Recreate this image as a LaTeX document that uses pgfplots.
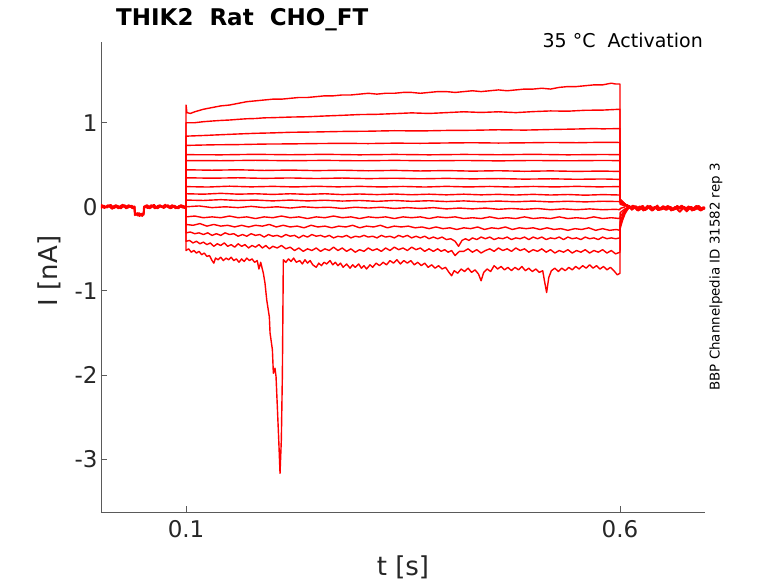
\documentclass[border=0pt]{standalone}
\usepackage{fontspec}
\setmainfont{DejaVu Sans}
\usepackage{pgfplots}
\pgfplotsset{compat=1.18}
\definecolor{axgray}{RGB}{90,90,90}
\definecolor{txtgray}{RGB}{38,38,38}
\pgfplotsset{tr/.style={color=red, line width=1.4pt, line join=round},
  trb/.style={color=red, line width=1.8pt, line join=round}}
\begin{document}
\begin{tikzpicture}
\useasboundingbox (-101pt,-71pt) rectangle (677pt,512pt);
\begin{axis}[
  scale only axis, width=604pt, height=470pt,
  at={(0pt,0pt)}, anchor=south west,
  xmin=0.002, xmax=0.698, ymin=-3.63, ymax=1.96,
  axis lines=left, axis line style={-, draw=axgray, line width=0.8pt},
  tick align=inside, major tick length=6pt,
  tick style={draw=axgray, line width=0.8pt},
  xtick={0.1,0.6}, xticklabels={0.1,0.6},
  ytick={-3,-2,-1,0,1}, yticklabels={-3,-2,-1,0,1},
  tick label style={font=\fontsize{23}{27}\selectfont, text=txtgray},
  xticklabel style={yshift=-5pt},
  no markers, clip=true,
]
% pre-step baselines
\addplot[trb] coordinates {(0.002,0.01)(0.006,-0.015)(0.010,0.02)(0.014,-0.01)(0.018,0.015)(0.022,-0.02)(0.026,0.01)(0.030,-0.005)(0.034,0.02)(0.038,-0.015)(0.0405,0.005)(0.041,-0.07)(0.0435,-0.09)(0.046,-0.075)(0.0485,-0.1)(0.051,-0.08)(0.0515,0.0)(0.054,0.015)(0.058,-0.02)(0.062,0.01)(0.066,-0.01)(0.070,0.02)(0.074,-0.015)(0.078,0.01)(0.082,-0.02)(0.086,0.015)(0.090,-0.01)(0.094,0.02)(0.098,-0.015)(0.1,0.0)};
\addplot[trb] coordinates {(0.002,-0.02)(0.005,0.015)(0.009,-0.01)(0.013,0.025)(0.017,-0.015)(0.021,0.01)(0.025,-0.02)(0.029,0.02)(0.033,-0.01)(0.037,0.015)(0.0405,-0.01)(0.041,-0.1)(0.044,-0.075)(0.0465,-0.11)(0.049,-0.08)(0.0512,-0.095)(0.0517,-0.01)(0.055,0.02)(0.059,-0.01)(0.063,0.025)(0.067,-0.02)(0.071,0.01)(0.075,-0.01)(0.079,0.02)(0.083,-0.015)(0.087,0.01)(0.091,-0.02)(0.095,0.015)(0.1,0.0)};
\addplot[trb] coordinates {(0.002,0.025)(0.007,-0.005)(0.011,0.01)(0.015,-0.025)(0.019,0.02)(0.023,0.0)(0.027,0.025)(0.031,-0.02)(0.035,0.005)(0.039,-0.02)(0.0408,0.0)(0.0412,-0.08)(0.0445,-0.105)(0.047,-0.085)(0.0495,-0.11)(0.0513,-0.075)(0.052,0.005)(0.056,-0.015)(0.060,0.02)(0.064,-0.02)(0.068,0.015)(0.072,-0.005)(0.076,0.025)(0.080,-0.01)(0.084,0.02)(0.088,-0.02)(0.092,0.01)(0.096,-0.01)(0.1,0.0)};
% post-step tails
\addplot[trb] coordinates {(0.610,0.0)(0.614,-0.03)(0.618,0.01)(0.622,-0.025)(0.626,0.012)(0.630,-0.03)(0.634,0.0)(0.638,-0.04)(0.642,0.005)(0.646,-0.025)(0.650,0.01)(0.654,-0.035)(0.658,0.0)(0.662,-0.03)(0.666,0.012)(0.670,-0.025)(0.674,0.0)(0.678,-0.035)(0.682,0.0)(0.686,-0.03)(0.690,0.008)(0.694,-0.025)(0.698,-0.01)};
\addplot[trb] coordinates {(0.612,-0.03)(0.616,0.008)(0.620,-0.04)(0.624,0.0)(0.628,-0.025)(0.632,0.012)(0.636,-0.035)(0.640,0.0)(0.644,-0.04)(0.648,-0.005)(0.652,-0.03)(0.656,0.008)(0.660,-0.035)(0.664,0.0)(0.668,-0.025)(0.672,0.008)(0.676,-0.04)(0.680,0.0)(0.684,-0.025)(0.688,0.012)(0.692,-0.03)(0.696,-0.005)(0.698,-0.02)};
\addplot[trb] coordinates {(0.611,-0.015)(0.615,0.015)(0.619,-0.02)(0.623,0.005)(0.627,-0.045)(0.631,-0.01)(0.635,0.01)(0.639,-0.025)(0.643,0.015)(0.647,-0.035)(0.651,-0.015)(0.655,0.01)(0.659,-0.045)(0.663,-0.005)(0.667,-0.02)(0.671,0.015)(0.675,-0.03)(0.679,0.005)(0.683,-0.045)(0.687,-0.01)(0.691,0.01)(0.695,-0.035)(0.698,-0.005)};
\addplot[trb] coordinates {(0.613,-0.04)(0.617,-0.01)(0.621,-0.045)(0.625,-0.02)(0.629,-0.04)(0.633,-0.01)(0.637,-0.045)(0.641,-0.015)(0.645,-0.04)(0.649,-0.01)(0.653,-0.035)(0.657,-0.015)(0.661,-0.04)(0.665,-0.02)(0.669,-0.06)(0.673,-0.015)(0.677,-0.055)(0.681,-0.01)(0.685,-0.04)(0.689,-0.02)(0.693,-0.045)(0.697,-0.015)(0.698,-0.03)};
% T1
\addplot[tr] coordinates {(0.1,0)(0.1,1.21)(0.101,1.12)(0.105,1.11)(0.11,1.13)(0.12,1.16)(0.13,1.18)(0.14,1.20)(0.15,1.21)(0.16,1.23)(0.17,1.25)(0.18,1.26)(0.19,1.27)(0.20,1.28)(0.21,1.28)(0.22,1.29)(0.23,1.30)(0.24,1.30)(0.25,1.31)(0.26,1.32)(0.27,1.32)(0.28,1.33)(0.29,1.33)(0.30,1.34)(0.31,1.35)(0.32,1.34)(0.33,1.35)(0.34,1.35)(0.35,1.36)(0.36,1.36)(0.37,1.35)(0.38,1.36)(0.39,1.37)(0.40,1.37)(0.41,1.36)(0.42,1.37)(0.43,1.38)(0.44,1.37)(0.45,1.38)(0.46,1.39)(0.47,1.38)(0.48,1.39)(0.49,1.40)(0.50,1.40)(0.51,1.41)(0.52,1.40)(0.53,1.42)(0.54,1.43)(0.55,1.43)(0.56,1.44)(0.57,1.45)(0.58,1.45)(0.59,1.47)(0.595,1.46)(0.60,1.46)(0.6002,0.09)(0.606,0.03)(0.612,0)};
% T2
\addplot[tr] coordinates {(0.1,0)(0.1,1.0)(0.11,1.0)(0.12,1.012)(0.13,1.02)(0.14,1.027)(0.15,1.032)(0.16,1.04)(0.17,1.047)(0.18,1.05)(0.19,1.058)(0.20,1.06)(0.22,1.067)(0.24,1.071)(0.26,1.08)(0.28,1.088)(0.30,1.097)(0.32,1.10)(0.34,1.108)(0.36,1.117)(0.38,1.11)(0.40,1.12)(0.42,1.13)(0.44,1.122)(0.46,1.13)(0.48,1.12)(0.50,1.132)(0.52,1.14)(0.54,1.137)(0.56,1.148)(0.58,1.15)(0.60,1.16)(0.6002,0.09)(0.606,0.03)(0.612,0)};
% T3
\addplot[tr] coordinates {(0.1,0)(0.1,0.84)(0.12,0.848)(0.14,0.857)(0.16,0.866)(0.18,0.874)(0.20,0.879)(0.22,0.886)(0.25,0.89)(0.28,0.896)(0.31,0.899)(0.34,0.905)(0.37,0.902)(0.40,0.908)(0.43,0.91)(0.46,0.916)(0.49,0.912)(0.52,0.919)(0.55,0.925)(0.57,0.93)(0.58,0.927)(0.60,0.93)(0.6002,0.08)(0.606,0.03)(0.612,0)};
% T4
\addplot[tr] coordinates {(0.1,0)(0.1,0.73)(0.13,0.737)(0.16,0.74)(0.19,0.746)(0.22,0.748)(0.25,0.752)(0.28,0.755)(0.31,0.752)(0.34,0.757)(0.37,0.755)(0.40,0.759)(0.43,0.762)(0.46,0.758)(0.49,0.761)(0.52,0.765)(0.55,0.762)(0.58,0.767)(0.60,0.765)(0.6002,0.08)(0.606,0.03)(0.612,0)};
% T5
\addplot[tr] coordinates {(0.1,0)(0.1,0.62)(0.14,0.618)(0.18,0.624)(0.22,0.619)(0.26,0.624)(0.30,0.618)(0.34,0.623)(0.38,0.618)(0.42,0.623)(0.46,0.619)(0.50,0.624)(0.54,0.618)(0.58,0.622)(0.60,0.62)(0.6002,0.08)(0.606,0.03)(0.612,0)};
% T6
\addplot[tr] coordinates {(0.1,0)(0.1,0.55)(0.14,0.548)(0.18,0.553)(0.22,0.548)(0.26,0.552)(0.30,0.547)(0.34,0.552)(0.38,0.547)(0.42,0.551)(0.46,0.546)(0.50,0.551)(0.54,0.547)(0.58,0.551)(0.60,0.549)(0.6002,0.08)(0.606,0.03)(0.612,0)};
% T7
\addplot[tr] coordinates {(0.1,0)(0.1,0.44)(0.13,0.435)(0.16,0.44)(0.19,0.432)(0.22,0.437)(0.25,0.43)(0.28,0.435)(0.31,0.428)(0.34,0.433)(0.37,0.426)(0.40,0.431)(0.43,0.424)(0.46,0.429)(0.49,0.422)(0.52,0.427)(0.55,0.421)(0.58,0.425)(0.60,0.42)(0.6002,0.07)(0.606,0.02)(0.612,0)};
% T8
\addplot[tr] coordinates {(0.1,0)(0.1,0.345)(0.13,0.34)(0.16,0.345)(0.19,0.338)(0.22,0.343)(0.25,0.336)(0.28,0.342)(0.31,0.335)(0.34,0.34)(0.37,0.333)(0.40,0.338)(0.43,0.332)(0.46,0.336)(0.49,0.329)(0.52,0.333)(0.55,0.327)(0.58,0.331)(0.60,0.326)(0.6002,0.07)(0.606,0.02)(0.612,0)};
% T9
\addplot[tr] coordinates {(0.1,0)(0.1,0.24)(0.125,0.235)(0.15,0.245)(0.175,0.237)(0.20,0.243)(0.225,0.236)(0.25,0.244)(0.275,0.237)(0.30,0.243)(0.325,0.236)(0.35,0.242)(0.375,0.235)(0.40,0.243)(0.425,0.236)(0.45,0.242)(0.475,0.235)(0.50,0.242)(0.525,0.236)(0.55,0.243)(0.575,0.237)(0.60,0.24)(0.6002,0.06)(0.606,0.02)(0.612,0)};
% T10
\addplot[tr] coordinates {(0.1,0)(0.1,0.155)(0.12,0.15)(0.14,0.16)(0.16,0.15)(0.18,0.155)(0.20,0.147)(0.22,0.155)(0.24,0.148)(0.26,0.155)(0.28,0.145)(0.30,0.152)(0.32,0.145)(0.34,0.152)(0.36,0.143)(0.38,0.15)(0.40,0.142)(0.42,0.15)(0.44,0.142)(0.46,0.148)(0.48,0.14)(0.50,0.148)(0.52,0.14)(0.54,0.146)(0.56,0.138)(0.58,0.145)(0.60,0.14)(0.6002,0.05)(0.606,0.02)(0.612,0)};
% T11
\addplot[tr] coordinates {(0.1,0)(0.1,0.08)(0.12,0.075)(0.14,0.085)(0.16,0.075)(0.18,0.08)(0.20,0.07)(0.22,0.08)(0.24,0.07)(0.26,0.078)(0.28,0.068)(0.30,0.075)(0.32,0.065)(0.34,0.075)(0.36,0.065)(0.38,0.072)(0.40,0.062)(0.42,0.07)(0.44,0.06)(0.46,0.068)(0.48,0.06)(0.50,0.068)(0.52,0.058)(0.54,0.066)(0.56,0.058)(0.58,0.066)(0.60,0.062)(0.6002,0.03)(0.606,0.01)(0.612,0)};
% T12
\addplot[tr] coordinates {(0.1,0)(0.115,0.01)(0.13,-0.01)(0.145,0.0)(0.16,-0.01)(0.175,0.005)(0.19,-0.01)(0.205,0.0)(0.22,-0.015)(0.235,0.0)(0.25,-0.01)(0.265,-0.005)(0.28,-0.02)(0.295,-0.005)(0.31,-0.015)(0.325,-0.005)(0.34,-0.02)(0.355,-0.01)(0.37,-0.02)(0.385,-0.01)(0.40,-0.025)(0.415,-0.015)(0.43,-0.025)(0.445,-0.015)(0.46,-0.03)(0.475,-0.02)(0.49,-0.03)(0.505,-0.02)(0.52,-0.035)(0.535,-0.025)(0.55,-0.035)(0.565,-0.025)(0.58,-0.035)(0.595,-0.03)(0.60,-0.035)(0.6002,-0.02)(0.606,0.0)};
% T13
\addplot[tr] coordinates {(0.1,0)(0.1,-0.12)(0.11,-0.11)(0.12,-0.13)(0.13,-0.12)(0.14,-0.13)(0.15,-0.11)(0.16,-0.13)(0.17,-0.12)(0.18,-0.14)(0.19,-0.12)(0.20,-0.13)(0.21,-0.11)(0.22,-0.13)(0.23,-0.12)(0.24,-0.14)(0.25,-0.12)(0.26,-0.13)(0.27,-0.11)(0.28,-0.13)(0.29,-0.12)(0.30,-0.14)(0.31,-0.12)(0.32,-0.13)(0.33,-0.12)(0.34,-0.14)(0.35,-0.12)(0.36,-0.13)(0.37,-0.12)(0.38,-0.14)(0.39,-0.12)(0.40,-0.13)(0.41,-0.12)(0.42,-0.14)(0.43,-0.13)(0.44,-0.14)(0.45,-0.12)(0.46,-0.14)(0.47,-0.13)(0.48,-0.14)(0.49,-0.12)(0.50,-0.14)(0.51,-0.13)(0.52,-0.14)(0.53,-0.12)(0.54,-0.14)(0.55,-0.13)(0.56,-0.14)(0.57,-0.12)(0.58,-0.14)(0.59,-0.13)(0.60,-0.14)(0.6002,-0.07)(0.605,-0.03)(0.61,0.0)};
% T14
\addplot[tr] coordinates {(0.1,0)(0.1,-0.21)(0.108,-0.22)(0.116,-0.20)(0.124,-0.23)(0.132,-0.21)(0.140,-0.23)(0.148,-0.22)(0.156,-0.24)(0.164,-0.22)(0.172,-0.24)(0.180,-0.22)(0.188,-0.23)(0.196,-0.21)(0.204,-0.24)(0.212,-0.22)(0.220,-0.24)(0.228,-0.23)(0.236,-0.25)(0.244,-0.22)(0.252,-0.24)(0.260,-0.23)(0.268,-0.25)(0.276,-0.23)(0.284,-0.24)(0.292,-0.22)(0.300,-0.25)(0.308,-0.23)(0.316,-0.24)(0.324,-0.22)(0.332,-0.25)(0.340,-0.23)(0.348,-0.24)(0.356,-0.23)(0.364,-0.25)(0.372,-0.24)(0.380,-0.26)(0.388,-0.24)(0.396,-0.26)(0.404,-0.25)(0.412,-0.27)(0.420,-0.25)(0.428,-0.26)(0.436,-0.24)(0.444,-0.27)(0.452,-0.25)(0.460,-0.26)(0.468,-0.24)(0.476,-0.27)(0.484,-0.25)(0.492,-0.26)(0.500,-0.25)(0.508,-0.27)(0.516,-0.25)(0.524,-0.27)(0.532,-0.26)(0.540,-0.28)(0.548,-0.26)(0.556,-0.27)(0.564,-0.25)(0.572,-0.28)(0.580,-0.26)(0.588,-0.28)(0.596,-0.27)(0.600,-0.28)(0.6002,-0.12)(0.604,-0.06)(0.608,-0.02)(0.612,0.0)};
% T15
\addplot[tr] coordinates {(0.1,0)(0.1,-0.31)(0.105,-0.30)(0.110,-0.32)(0.115,-0.31)(0.120,-0.33)(0.125,-0.31)(0.130,-0.34)(0.135,-0.32)(0.140,-0.34)(0.145,-0.31)(0.150,-0.33)(0.155,-0.32)(0.160,-0.35)(0.165,-0.33)(0.170,-0.35)(0.175,-0.32)(0.180,-0.34)(0.185,-0.33)(0.190,-0.36)(0.195,-0.33)(0.200,-0.35)(0.205,-0.34)(0.210,-0.36)(0.215,-0.33)(0.220,-0.35)(0.225,-0.34)(0.230,-0.37)(0.235,-0.34)(0.240,-0.36)(0.245,-0.33)(0.250,-0.35)(0.255,-0.34)(0.260,-0.36)(0.265,-0.34)(0.270,-0.37)(0.275,-0.35)(0.280,-0.36)(0.285,-0.34)(0.290,-0.37)(0.295,-0.35)(0.300,-0.36)(0.305,-0.34)(0.310,-0.36)(0.315,-0.35)(0.320,-0.37)(0.325,-0.34)(0.330,-0.36)(0.335,-0.35)(0.340,-0.37)(0.345,-0.34)(0.350,-0.36)(0.355,-0.34)(0.360,-0.37)(0.365,-0.35)(0.370,-0.37)(0.375,-0.35)(0.380,-0.38)(0.385,-0.36)(0.390,-0.38)(0.395,-0.36)(0.400,-0.39)(0.405,-0.38)(0.410,-0.41)(0.414,-0.47)(0.418,-0.40)(0.422,-0.38)(0.426,-0.40)(0.430,-0.37)(0.435,-0.39)(0.440,-0.36)(0.445,-0.38)(0.450,-0.36)(0.455,-0.39)(0.460,-0.37)(0.465,-0.38)(0.470,-0.36)(0.475,-0.39)(0.480,-0.37)(0.485,-0.38)(0.490,-0.36)(0.495,-0.39)(0.500,-0.36)(0.505,-0.38)(0.510,-0.36)(0.515,-0.39)(0.520,-0.37)(0.525,-0.38)(0.530,-0.36)(0.535,-0.39)(0.540,-0.36)(0.545,-0.38)(0.550,-0.37)(0.555,-0.39)(0.560,-0.36)(0.565,-0.38)(0.570,-0.37)(0.575,-0.39)(0.580,-0.36)(0.585,-0.38)(0.590,-0.37)(0.595,-0.38)(0.600,-0.37)(0.6002,-0.18)(0.603,-0.10)(0.606,-0.05)(0.609,-0.02)(0.612,0.0)};
% T16
\addplot[tr] coordinates {(0.1,0)(0.1,-0.41)(0.104,-0.40)(0.108,-0.43)(0.112,-0.41)(0.116,-0.44)(0.120,-0.42)(0.124,-0.45)(0.128,-0.43)(0.132,-0.47)(0.136,-0.44)(0.140,-0.46)(0.144,-0.43)(0.148,-0.47)(0.152,-0.45)(0.156,-0.48)(0.160,-0.44)(0.164,-0.47)(0.168,-0.45)(0.172,-0.49)(0.176,-0.46)(0.180,-0.48)(0.184,-0.45)(0.188,-0.49)(0.192,-0.46)(0.196,-0.50)(0.200,-0.47)(0.205,-0.49)(0.210,-0.46)(0.215,-0.50)(0.220,-0.48)(0.225,-0.52)(0.230,-0.49)(0.235,-0.53)(0.240,-0.50)(0.245,-0.52)(0.250,-0.49)(0.255,-0.53)(0.260,-0.50)(0.265,-0.52)(0.270,-0.48)(0.275,-0.52)(0.280,-0.49)(0.285,-0.53)(0.290,-0.50)(0.295,-0.54)(0.300,-0.51)(0.305,-0.53)(0.310,-0.49)(0.315,-0.52)(0.320,-0.50)(0.325,-0.53)(0.330,-0.49)(0.335,-0.52)(0.340,-0.48)(0.345,-0.51)(0.350,-0.49)(0.355,-0.52)(0.360,-0.48)(0.365,-0.51)(0.370,-0.49)(0.375,-0.53)(0.380,-0.50)(0.385,-0.53)(0.390,-0.50)(0.394,-0.53)(0.398,-0.51)(0.402,-0.54)(0.406,-0.52)(0.410,-0.58)(0.415,-0.53)(0.420,-0.53)(0.425,-0.50)(0.430,-0.54)(0.435,-0.51)(0.440,-0.55)(0.445,-0.52)(0.450,-0.50)(0.455,-0.53)(0.460,-0.49)(0.465,-0.52)(0.470,-0.50)(0.475,-0.53)(0.480,-0.49)(0.485,-0.52)(0.490,-0.50)(0.495,-0.54)(0.500,-0.51)(0.505,-0.53)(0.510,-0.50)(0.515,-0.54)(0.520,-0.51)(0.525,-0.55)(0.530,-0.52)(0.535,-0.54)(0.540,-0.51)(0.545,-0.55)(0.550,-0.52)(0.555,-0.54)(0.560,-0.51)(0.565,-0.55)(0.570,-0.52)(0.575,-0.54)(0.580,-0.51)(0.585,-0.55)(0.590,-0.52)(0.595,-0.56)(0.600,-0.54)(0.6002,-0.22)(0.603,-0.13)(0.606,-0.06)(0.609,-0.02)(0.612,0.0)};
% T17
\addplot[tr] coordinates {(0.1,0)(0.1,-0.52)(0.103,-0.50)(0.106,-0.54)(0.109,-0.52)(0.112,-0.55)(0.115,-0.53)(0.118,-0.57)(0.121,-0.55)(0.124,-0.59)(0.127,-0.58)(0.130,-0.64)(0.132,-0.67)(0.134,-0.61)(0.137,-0.63)(0.140,-0.60)(0.143,-0.64)(0.146,-0.61)(0.149,-0.63)(0.152,-0.60)(0.155,-0.64)(0.158,-0.62)(0.161,-0.66)(0.164,-0.62)(0.167,-0.65)(0.170,-0.61)(0.173,-0.64)(0.176,-0.62)(0.179,-0.66)(0.182,-0.64)(0.184,-0.74)(0.186,-0.66)(0.1891,-0.79)(0.1910,-0.91)(0.1930,-1.11)(0.1960,-1.31)(0.1968,-1.50)(0.1995,-1.70)(0.2006,-1.98)(0.2025,-1.92)(0.2037,-2.02)(0.2052,-2.38)(0.2068,-2.77)(0.2083,-3.17)(0.2098,-2.77)(0.2110,-2.00)(0.2121,-0.63)(0.215,-0.66)(0.218,-0.62)(0.221,-0.65)(0.224,-0.61)(0.227,-0.66)(0.231,-0.64)(0.234,-0.68)(0.237,-0.63)(0.240,-0.67)(0.243,-0.64)(0.246,-0.69)(0.250,-0.72)(0.253,-0.67)(0.256,-0.70)(0.259,-0.66)(0.262,-0.68)(0.266,-0.64)(0.269,-0.69)(0.272,-0.66)(0.275,-0.70)(0.278,-0.67)(0.281,-0.72)(0.285,-0.68)(0.289,-0.73)(0.292,-0.69)(0.295,-0.72)(0.299,-0.68)(0.302,-0.73)(0.305,-0.70)(0.308,-0.74)(0.312,-0.69)(0.315,-0.72)(0.319,-0.67)(0.323,-0.70)(0.327,-0.66)(0.331,-0.69)(0.335,-0.64)(0.339,-0.67)(0.343,-0.63)(0.347,-0.68)(0.351,-0.64)(0.355,-0.67)(0.359,-0.64)(0.363,-0.69)(0.367,-0.66)(0.371,-0.70)(0.375,-0.67)(0.379,-0.72)(0.383,-0.69)(0.387,-0.73)(0.391,-0.70)(0.395,-0.74)(0.399,-0.72)(0.403,-0.78)(0.406,-0.82)(0.409,-0.76)(0.413,-0.79)(0.417,-0.74)(0.421,-0.77)(0.425,-0.73)(0.429,-0.78)(0.433,-0.75)(0.437,-0.80)(0.440,-0.88)(0.443,-0.78)(0.447,-0.74)(0.451,-0.77)(0.455,-0.70)(0.459,-0.74)(0.463,-0.71)(0.467,-0.75)(0.471,-0.72)(0.475,-0.76)(0.479,-0.72)(0.483,-0.75)(0.487,-0.71)(0.491,-0.76)(0.495,-0.73)(0.499,-0.77)(0.503,-0.74)(0.507,-0.78)(0.511,-0.76)(0.513,-0.88)(0.5155,-1.02)(0.518,-0.84)(0.521,-0.76)(0.525,-0.73)(0.529,-0.77)(0.533,-0.73)(0.537,-0.76)(0.541,-0.72)(0.545,-0.75)(0.549,-0.71)(0.553,-0.74)(0.557,-0.70)(0.561,-0.73)(0.565,-0.69)(0.569,-0.73)(0.573,-0.70)(0.577,-0.74)(0.581,-0.71)(0.585,-0.75)(0.589,-0.72)(0.593,-0.76)(0.597,-0.81)(0.600,-0.79)(0.6002,-0.26)(0.603,-0.16)(0.606,-0.08)(0.609,-0.03)(0.612,0.0)};
\end{axis}
\node[anchor=base west, font=\bfseries\fontsize{23}{27}\selectfont, inner sep=0pt] at (15pt,486pt) {THIK2\ \ Rat\ \ CHO\_FT};
\node[anchor=base east, font=\fontsize{19}{23}\selectfont, inner sep=0pt] at (602pt,464pt) {35 °C\ \ Activation};
\node[font=\fontsize{26}{30}\selectfont, text=txtgray] at (302pt,-55pt) {t [s]};
\node[font=\fontsize{26}{30}\selectfont, text=txtgray, rotate=90] at (-52pt,241pt) {I [nA]};
\node[font=\fontsize{13.4}{16}\selectfont, rotate=90] at (615pt,235pt) {BBP Channelpedia ID 31582 rep 3};
\end{tikzpicture}
\end{document}
